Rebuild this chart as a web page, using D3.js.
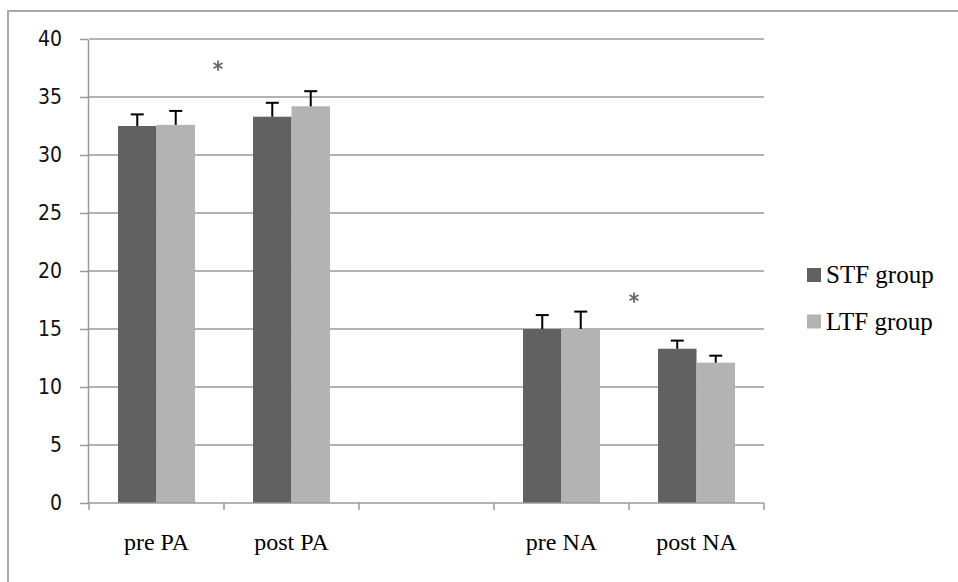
<!DOCTYPE html>
<html>
<head>
<meta charset="utf-8">
<script src="https://cdn.jsdelivr.net/npm/d3@7"></script>
<style>
  body { margin: 0; background: #fff; }
  svg { display: block; }
</style>
</head>
<body>
<svg id="chart" width="958" height="582"></svg>
<script>
// chart values
const categories = ["pre PA", "post PA", "", "pre NA", "post NA"];
const series = ["STF group", "LTF group"];
const stfValues = [32.5, 33.3, null, 15.0, 13.3];
const ltfValues = [32.6, 34.2, null, 15.0, 12.1];
const stfErrors = [1.0, 1.2, null, 1.2, 0.7];
const ltfErrors = [1.2, 1.3, null, 1.5, 0.6];
const yTicks = [0, 5, 10, 15, 20, 25, 30, 35, 40];
// significance marks: placed next to a category boundary
const stars = [
	{cat: "post PA", dx: -6, y: 37.7},
	{cat: "post NA", dx: 5, y: 17.7}
];

const colors = {"STF group": "#616161", "LTF group": "#b3b3b3"};

const svg = d3.select("#chart");

// outer frame (runs off the right and bottom edges)
svg.append("rect")
	.attr("x", 8).attr("y", 11)
	.attr("width", 1000).attr("height", 1000)
	.attr("fill", "none")
	.attr("stroke", "#a8a8a8")
	.attr("stroke-width", 2);

const x0 = d3.scaleBand().domain(categories).range([89, 764]).padding(0);
const bw = x0.bandwidth();
const x1 = d3.scaleBand().domain(series).range([bw * 0.215, bw * 0.785]).padding(0);
const y = d3.scaleLinear().domain([0, 40]).range([503, 39]);

// grid lines
svg.append("g")
	.selectAll("line")
	.data(yTicks.filter(d => d > 0))
	.enter().append("line")
	.attr("x1", 89).attr("x2", 764)
	.attr("y1", d => y(d)).attr("y2", d => y(d))
	.attr("stroke", "#9a9a9a")
	.attr("stroke-width", 1.5);

// y axis
const yAxis = svg.append("g")
	.attr("transform", "translate(88,0)")
	.call(d3.axisLeft(y).tickValues(yTicks).tickSize(8).tickPadding(18).tickSizeOuter(0));
yAxis.select(".domain").attr("stroke", "#9a9a9a").attr("stroke-width", 1.5);
yAxis.selectAll(".tick line").attr("stroke", "#9a9a9a").attr("stroke-width", 1.5);
yAxis.selectAll(".tick text")
	.attr("font-family", "'DejaVu Sans Condensed', 'DejaVu Sans', sans-serif")
	.attr("font-size", 21)
	.attr("fill", "#111");

// bars
const rows = categories.map((c, i) => ({
	cat: c,
	items: [
		{s: "STF group", v: stfValues[i], e: stfErrors[i]},
		{s: "LTF group", v: ltfValues[i], e: ltfErrors[i]}
	]
}));

const groups = svg.append("g")
	.selectAll("g")
	.data(rows.filter(r => r.items[0].v !== null))
	.enter().append("g")
	.attr("transform", d => "translate(" + x0(d.cat) + ",0)");

groups.selectAll("rect")
	.data(d => d.items)
	.enter().append("rect")
	.attr("x", d => x1(d.s))
	.attr("y", d => y(d.v))
	.attr("width", x1.bandwidth())
	.attr("height", d => y(0) - y(d.v))
	.attr("fill", d => colors[d.s]);

// error bars (upper half only)
const errs = groups.selectAll("g.err")
	.data(d => d.items)
	.enter().append("g")
	.attr("class", "err")
	.attr("stroke", "#000")
	.attr("stroke-width", 2);
errs.append("line")
	.attr("x1", d => x1(d.s) + x1.bandwidth() / 2)
	.attr("x2", d => x1(d.s) + x1.bandwidth() / 2)
	.attr("y1", d => y(d.v))
	.attr("y2", d => y(d.v + d.e));
errs.append("line")
	.attr("x1", d => x1(d.s) + x1.bandwidth() / 2 - 6.5)
	.attr("x2", d => x1(d.s) + x1.bandwidth() / 2 + 6.5)
	.attr("y1", d => y(d.v + d.e))
	.attr("y2", d => y(d.v + d.e));

// x axis
const xAxis = svg.append("g").attr("transform", "translate(0,503)");
xAxis.append("line")
	.attr("x1", 88).attr("x2", 764)
	.attr("stroke", "#9a9a9a").attr("stroke-width", 1.5);
xAxis.selectAll("line.tick")
	.data(categories.map(c => x0(c)).concat([x0.range()[1]]))
	.enter().append("line")
	.attr("class", "tick")
	.attr("x1", d => d).attr("x2", d => d)
	.attr("y1", 0).attr("y2", 7)
	.attr("stroke", "#9a9a9a").attr("stroke-width", 1.5);
xAxis.selectAll("text")
	.data(categories)
	.enter().append("text")
	.attr("x", d => x0(d) + bw / 2)
	.attr("y", 47)
	.attr("text-anchor", "middle")
	.attr("font-family", "'Liberation Serif', 'Times New Roman', serif")
	.attr("font-size", 24)
	.attr("fill", "#000")
	.text(d => d);

// significance asterisks
svg.append("g")
	.selectAll("path")
	.data(stars)
	.enter().append("path")
	.attr("transform", d => "translate(" + (x0(d.cat) + d.dx) + "," + y(d.y) + ")")
	.attr("d", d3.symbol().type(d3.symbolAsterisk).size(75))
	.attr("fill", "none")
	.attr("stroke", "#6a6a6a")
	.attr("stroke-width", 1.8);

// legend
const legend = svg.append("g")
	.selectAll("g")
	.data(series)
	.enter().append("g")
	.attr("transform", (d, i) => "translate(807," + (268 + i * 46.5) + ")");
legend.append("rect")
	.attr("width", 14).attr("height", 14)
	.attr("fill", d => colors[d]);
legend.append("text")
	.attr("x", 19).attr("y", 15)
	.attr("font-family", "'Liberation Serif', 'Times New Roman', serif")
	.attr("font-size", 25)
	.attr("fill", "#000")
	.text(d => d);
</script>
</body>
</html>
